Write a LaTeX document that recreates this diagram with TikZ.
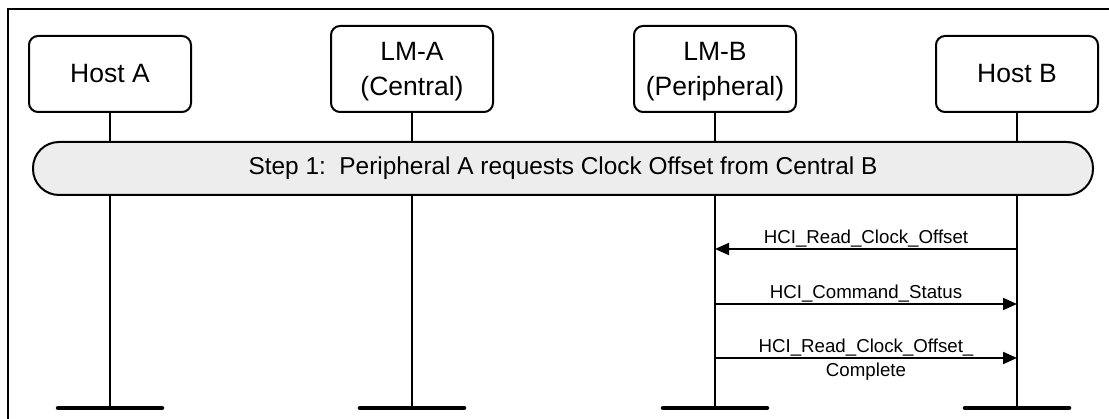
\documentclass[tikz,border=0pt]{standalone}
\usepackage{fontspec}
\setmainfont{Liberation Sans}
\usetikzlibrary{arrows.meta,calc}
\begin{document}
\begin{tikzpicture}[x=1pt,y=-1pt,
  entity/.style={draw,line width=2pt,rounded corners=9pt,fill=white,minimum width=162pt,align=center,
    font=\fontsize{26.5}{35}\selectfont,inner sep=0pt},
  twoline/.style={entity,minimum height=86pt,text depth=0pt},
  life/.style={line width=2pt},
  endbar/.style={line width=4.5pt,line cap=round},
  stepbar/.style={draw,line width=2pt,fill=black!7,rounded corners=26pt,minimum width=1060pt,minimum height=53pt,
    font=\fontsize{24.4}{30}\selectfont,inner sep=0pt},
  msg/.style={line width=2pt,-{Triangle[length=14pt,width=12pt]}},
  lbl/.style={font=\fontsize{18.7}{23.5}\selectfont,inner sep=0pt,align=center},
]
\useasboundingbox (0,0) rectangle (1109,419);
\clip (0,0) rectangle (1109,419);
\fill[white] (0,0) rectangle (1109,419);
\draw[line width=2pt] (8,9) rectangle (1130,440);

\node[entity,minimum height=76pt] (hostA) at (110,74) {Host A};
\node[twoline] (lmA) at (412,69) {LM-A\\(Central)};
\node[twoline] (lmB) at (715,69) {LM-B\\(Peripheral)};
\node[entity,minimum height=76pt] (hostB) at (1017,74) {Host B};

\foreach \n in {hostA,lmA,lmB,hostB}{
  \coordinate (\n-end) at (\n.south |- 0,408);
  \draw[life] (\n.south) -- (\n-end);
  \draw[endbar] ($(\n-end)+(-52,0)$) -- ($(\n-end)+(52,0)$);
}

\node[stepbar] (step) at (563,168.5) {Step 1:\ \ Peripheral A requests Clock Offset from Central B};

\draw[msg] (hostB.south |- 0,249) -- (lmB.south |- 0,249)
  node[lbl,midway,anchor=base,yshift=5.3pt] (m1) {HCI\_Read\_Clock\_Offset};
\draw[msg] (lmB.south |- 0,304) -- (hostB.south |- 0,304)
  node[lbl,midway,anchor=base,yshift=5.3pt] (m2) {HCI\_Command\_Status};
\draw[msg] (lmB.south |- 0,358) -- (hostB.south |- 0,358)
  node[lbl,midway,anchor=center,yshift=-1.8pt] (m3) {HCI\_Read\_Clock\_Offset\_\\Complete};
\end{tikzpicture}
\end{document}
